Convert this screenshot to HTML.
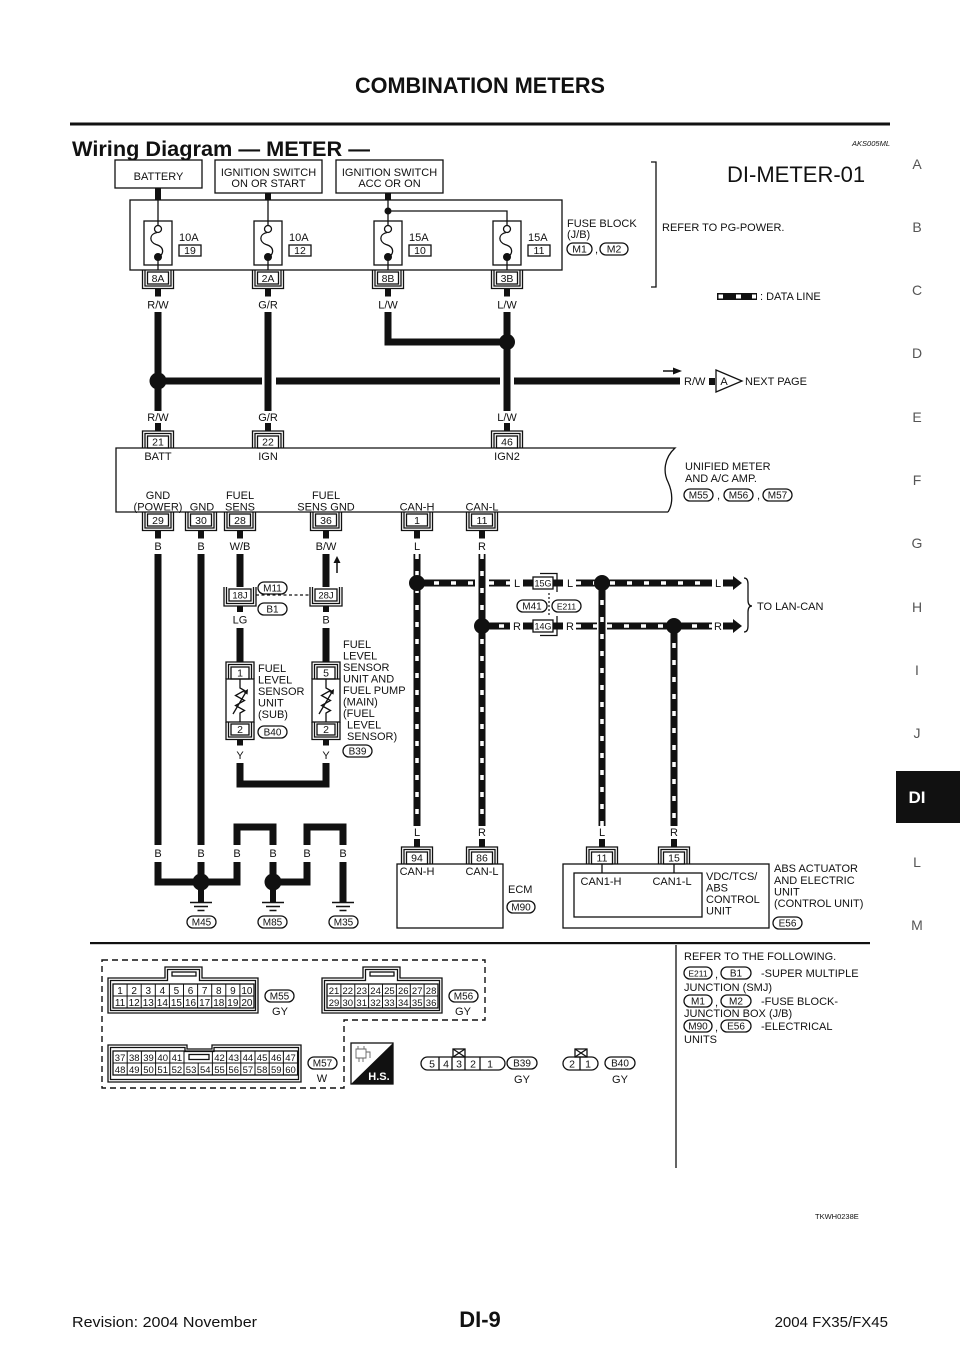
<!DOCTYPE html>
<html><head><meta charset="utf-8"><style>
html,body{margin:0;padding:0;background:#fff}
svg{display:block}
text{font-family:"Liberation Sans",Arial,sans-serif;fill:#111}
.s{fill:none;stroke:#111;stroke-width:1.3}
.sf{fill:#fff;stroke:#111;stroke-width:1.3}
.w{fill:none;stroke:#111;stroke-width:7;stroke-linejoin:miter}
.dl{fill:none;stroke:#111;stroke-width:7}
.dw{fill:none;stroke:#fff;stroke-width:3.5;stroke-dasharray:5 12}
.m{text-anchor:middle}
.tab{font-size:14px;fill:#555;text-anchor:middle}
</style></head><body>
<svg width="960" height="1358" viewBox="0 0 960 1358" xmlns="http://www.w3.org/2000/svg" font-size="11">
<rect width="960" height="1358" fill="#fff"/>

<!-- Header -->
<text x="480" y="93" class="m" font-size="22" font-weight="bold" textLength="250" lengthAdjust="spacingAndGlyphs">COMBINATION METERS</text>
<rect x="70" y="122.5" width="820" height="3" fill="#111"/>
<text x="72" y="156" font-size="21" font-weight="bold" textLength="298" lengthAdjust="spacingAndGlyphs">Wiring Diagram — METER —</text>
<text x="890" y="146" font-size="7.5" font-style="italic" text-anchor="end">AKS005ML</text>

<!-- Right tabs -->
<text x="917" y="169" class="tab">A</text>
<text x="917" y="232" class="tab">B</text>
<text x="917" y="295" class="tab">C</text>
<text x="917" y="358" class="tab">D</text>
<text x="917" y="422" class="tab">E</text>
<text x="917" y="485" class="tab">F</text>
<text x="917" y="548" class="tab">G</text>
<text x="917" y="612" class="tab">H</text>
<text x="917" y="675" class="tab">I</text>
<text x="917" y="738" class="tab">J</text>
<rect x="896" y="771" width="64" height="52" fill="#111"/>
<text x="917" y="803" class="m" font-size="17" font-weight="bold" style="fill:#fff">DI</text>
<text x="917" y="867" class="tab">L</text>
<text x="917" y="930" class="tab">M</text>

<!-- Top boxes -->
<rect x="115" y="160" width="87" height="28" class="s"/>
<text x="158.5" y="180" class="m">BATTERY</text>
<rect x="215" y="160" width="107" height="33" class="s"/>
<text x="268.5" y="176" class="m">IGNITION SWITCH</text>
<text x="268.5" y="187" class="m">ON OR START</text>
<rect x="336" y="160" width="107" height="33" class="s"/>
<text x="389.5" y="176" class="m">IGNITION SWITCH</text>
<text x="389.5" y="187" class="m">ACC OR ON</text>
<rect x="155" y="188" width="6" height="12" fill="#111"/>
<rect x="265" y="193" width="6" height="7" fill="#111"/>
<rect x="385" y="193" width="6" height="7" fill="#111"/>

<!-- Fuse block -->
<rect x="130" y="200" width="432" height="70" class="s"/>
<path d="M158 200V225.5M268 200V225.5M388 200V225.5M388 211H507V225.5" class="s"/>
<circle cx="388" cy="211" r="3.5" fill="#111"/>

<!-- fuses -->
<g>
<rect x="144" y="221" width="28" height="44" class="s"/>
<circle cx="158" cy="229" r="3.5" class="sf"/>
<path d="M157 232.5C149 234 149 242 156 244.5C165 247 164 255 158 257V270" class="s"/>
<circle cx="158" cy="257" r="4" fill="#111"/>
<text x="179" y="241">10A</text>
<rect x="179" y="245" width="22" height="11" class="s"/>
<text x="190" y="254" class="m" font-size="10.5">19</text>
</g>
<g>
<rect x="254" y="221" width="28" height="44" class="s"/>
<circle cx="268" cy="229" r="3.5" class="sf"/>
<path d="M267 232.5C259 234 259 242 266 244.5C275 247 274 255 268 257V270" class="s"/>
<circle cx="268" cy="257" r="4" fill="#111"/>
<text x="289" y="241">10A</text>
<rect x="289" y="245" width="22" height="11" class="s"/>
<text x="300" y="254" class="m" font-size="10.5">12</text>
</g>
<g>
<rect x="374" y="221" width="28" height="44" class="s"/>
<circle cx="388" cy="229" r="3.5" class="sf"/>
<path d="M387 232.5C379 234 379 242 386 244.5C395 247 394 255 388 257V270" class="s"/>
<circle cx="388" cy="257" r="4" fill="#111"/>
<text x="409" y="241">15A</text>
<rect x="409" y="245" width="22" height="11" class="s"/>
<text x="420" y="254" class="m" font-size="10.5">10</text>
</g>
<g>
<rect x="493" y="221" width="28" height="44" class="s"/>
<circle cx="507" cy="229" r="3.5" class="sf"/>
<path d="M506 232.5C498 234 498 242 505 244.5C514 247 513 255 507 257V270" class="s"/>
<circle cx="507" cy="257" r="4" fill="#111"/>
<text x="528" y="241">15A</text>
<rect x="528" y="245" width="22" height="11" class="s"/>
<text x="539" y="254" class="m" font-size="10.5">11</text>
</g>

<!-- fuse block connectors -->
<rect x="147.5" y="272" width="21" height="12" class="s"/>
<path d="M145 270V286H171V270M142.5 270V288.5H173.5V270" class="s"/>
<rect x="155" y="288.5" width="6" height="8" fill="#111"/>
<text x="158" y="282" class="m" font-size="10.5">8A</text>
<rect x="257.5" y="272" width="21" height="12" class="s"/>
<path d="M255 270V286H281V270M252.5 270V288.5H283.5V270" class="s"/>
<rect x="265" y="288.5" width="6" height="8" fill="#111"/>
<text x="268" y="282" class="m" font-size="10.5">2A</text>
<rect x="377.5" y="272" width="21" height="12" class="s"/>
<path d="M375 270V286H401V270M372.5 270V288.5H403.5V270" class="s"/>
<rect x="385" y="288.5" width="6" height="8" fill="#111"/>
<text x="388" y="282" class="m" font-size="10.5">8B</text>
<rect x="496.5" y="272" width="21" height="12" class="s"/>
<path d="M494 270V286H520V270M491.5 270V288.5H522.5V270" class="s"/>
<rect x="504" y="288.5" width="6" height="8" fill="#111"/>
<text x="507" y="282" class="m" font-size="10.5">3B</text>

<text x="158" y="308.5" class="m">R/W</text>
<text x="268" y="308.5" class="m">G/R</text>
<text x="388" y="308.5" class="m">L/W</text>
<text x="507" y="308.5" class="m">L/W</text>

<!-- fuse block side texts -->
<text x="567" y="227">FUSE BLOCK</text>
<text x="567" y="238">(J/B)</text>
<rect x="567" y="243" width="25" height="12" rx="6" class="s"/>
<text x="579.5" y="252.5" class="m" font-size="10.5">M1</text>
<text x="595" y="253">,</text>
<rect x="600" y="243" width="28" height="12" rx="6" class="s"/>
<text x="614" y="252.5" class="m" font-size="10.5">M2</text>
<path d="M651 162H656V287H651" class="s"/>
<text x="662" y="231">REFER TO PG-POWER.</text>
<text x="727" y="182" font-size="22">DI-METER-01</text>

<!-- data line legend -->
<rect x="717" y="293" width="40" height="7" fill="#111"/>
<rect x="718.5" y="294.5" width="4.5" height="4" fill="#fff"/>
<rect x="736" y="294.5" width="5" height="4" fill="#fff"/>
<rect x="752" y="294.5" width="4" height="4" fill="#fff"/>
<text x="760" y="300">: DATA LINE</text>

<!-- power wires -->
<path d="M158 312V411M268 312V411M388 312V342H507M507 312V411" class="w"/>
<path d="M158 381H262M276 381H500M514 381H680" class="w"/>
<circle cx="158" cy="381" r="8.5" fill="#111"/>
<circle cx="507" cy="342" r="8" fill="#111"/>
<path d="M663 371H674" stroke="#111" stroke-width="1.5"/>
<polygon points="673,367.5 682,371 673,374.5" fill="#111"/>
<text x="684" y="385">R/W</text>
<rect x="709" y="378" width="6" height="7" fill="#111"/>
<polygon points="716,370 742,381 716,392" class="sf"/>
<text x="724" y="385" class="m">A</text>
<text x="745" y="385">NEXT PAGE</text>

<text x="158" y="421" class="m">R/W</text>
<text x="268" y="421" class="m">G/R</text>
<text x="507" y="421" class="m">L/W</text>

<!-- meter top connectors -->
<rect x="147.5" y="436" width="21" height="12" class="s"/>
<path d="M145 448V433.5H171V448M142.5 448V431H173.5V448" class="s"/>
<rect x="155" y="423" width="6" height="8" fill="#111"/>
<text x="158" y="445.5" class="m" font-size="10.5">21</text>
<rect x="257.5" y="436" width="21" height="12" class="s"/>
<path d="M255 448V433.5H281V448M252.5 448V431H283.5V448" class="s"/>
<rect x="265" y="423" width="6" height="8" fill="#111"/>
<text x="268" y="445.5" class="m" font-size="10.5">22</text>
<rect x="496.5" y="436" width="21" height="12" class="s"/>
<path d="M494 448V433.5H520V448M491.5 448V431H522.5V448" class="s"/>
<rect x="504" y="423" width="6" height="8" fill="#111"/>
<text x="507" y="445.5" class="m" font-size="10.5">46</text>

<!-- Meter box -->
<path d="M668 512H116V448H675C664 458 663 472 668 482C673 493 673 504 668 512" class="s"/>
<text x="158" y="460" class="m">BATT</text>
<text x="268" y="460" class="m">IGN</text>
<text x="507" y="460" class="m">IGN2</text>
<text x="158" y="499" class="m">GND</text>
<text x="158" y="510.5" class="m">(POWER)</text>
<text x="202" y="510.5" class="m">GND</text>
<text x="240" y="499" class="m">FUEL</text>
<text x="240" y="510.5" class="m">SENS</text>
<text x="326" y="499" class="m">FUEL</text>
<text x="326" y="510.5" class="m">SENS GND</text>
<text x="417" y="510.5" class="m">CAN-H</text>
<text x="482" y="510.5" class="m">CAN-L</text>
<text x="685" y="470">UNIFIED METER</text>
<text x="685" y="482">AND A/C AMP.</text>
<rect x="684" y="489" width="29" height="12" rx="6" class="s"/>
<text x="698.5" y="498.5" class="m" font-size="10">M55</text>
<text x="717" y="499">,</text>
<rect x="724" y="489" width="29" height="12" rx="6" class="s"/>
<text x="738.5" y="498.5" class="m" font-size="10">M56</text>
<text x="757" y="499">,</text>
<rect x="763" y="489" width="29" height="12" rx="6" class="s"/>
<text x="777.5" y="498.5" class="m" font-size="10">M57</text>

<!-- meter bottom connectors -->
<g font-size="10.5">
<rect x="147.5" y="514" width="21" height="12" class="s"/>
<path d="M145 512V528H171V512M142.5 512V530.5H173.5V512" class="s"/>
<rect x="155" y="530.5" width="6" height="8" fill="#111"/>
<text x="158" y="524" class="m">29</text>
<rect x="190.5" y="514" width="21" height="12" class="s"/>
<path d="M188 512V528H214V512M185.5 512V530.5H216.5V512" class="s"/>
<rect x="198" y="530.5" width="6" height="8" fill="#111"/>
<text x="201" y="524" class="m">30</text>
<rect x="229.5" y="514" width="21" height="12" class="s"/>
<path d="M227 512V528H253V512M224.5 512V530.5H255.5V512" class="s"/>
<rect x="237" y="530.5" width="6" height="8" fill="#111"/>
<text x="240" y="524" class="m">28</text>
<rect x="315.5" y="514" width="21" height="12" class="s"/>
<path d="M313 512V528H339V512M310.5 512V530.5H341.5V512" class="s"/>
<rect x="323" y="530.5" width="6" height="8" fill="#111"/>
<text x="326" y="524" class="m">36</text>
<rect x="406.5" y="514" width="21" height="12" class="s"/>
<path d="M404 512V528H430V512M401.5 512V530.5H432.5V512" class="s"/>
<rect x="414" y="530.5" width="6" height="8" fill="#111"/>
<text x="417" y="524" class="m">1</text>
<rect x="471.5" y="514" width="21" height="12" class="s"/>
<path d="M469 512V528H495V512M466.5 512V530.5H497.5V512" class="s"/>
<rect x="479" y="530.5" width="6" height="8" fill="#111"/>
<text x="482" y="524" class="m">11</text>
</g>
<text x="158" y="550" class="m">B</text>
<text x="201" y="550" class="m">B</text>
<text x="240" y="550" class="m">W/B</text>
<text x="326" y="550" class="m">B/W</text>
<text x="417" y="550" class="m">L</text>
<text x="482" y="550" class="m">R</text>

<!-- ground wires -->
<path d="M158 554V845M158 862V882H201M201 554V845M201 862V882" class="w"/>
<path d="M201 882H237V862M237 845V827H273V845M273 862V882" class="w"/>
<path d="M273 882H307V862M307 845V827H343V845M343 862V903" class="w"/>
<path d="M201 882V902M273 882V902" stroke="#111" stroke-width="6"/>
<circle cx="201" cy="882" r="8.5" fill="#111"/>
<circle cx="273" cy="882" r="8.5" fill="#111"/>
<path d="M190 902.5H212M194 906.5H208M197.5 910.5H204.5M262 902.5H284M266 906.5H280M269.5 910.5H276.5M332 902.5H354M336 906.5H350M339.5 910.5H346.5" stroke="#111" stroke-width="1.5"/>
<text x="158" y="857" class="m">B</text>
<text x="201" y="857" class="m">B</text>
<text x="237" y="857" class="m">B</text>
<text x="273" y="857" class="m">B</text>
<text x="307" y="857" class="m">B</text>
<text x="343" y="857" class="m">B</text>
<rect x="187" y="916" width="29" height="12" rx="6" class="s"/>
<text x="201.5" y="925.5" class="m" font-size="10">M45</text>
<rect x="258" y="916" width="29" height="12" rx="6" class="s"/>
<text x="272.5" y="925.5" class="m" font-size="10">M85</text>
<rect x="329" y="916" width="29" height="12" rx="6" class="s"/>
<text x="343.5" y="925.5" class="m" font-size="10">M35</text>

<!-- fuel wires -->
<path d="M240 554V587M326 554V587M240 628V662M326 628V662M240 763V784H326V763" class="w"/>
<rect x="229" y="589" width="22" height="12" class="s"/>
<path d="M226.5 587V603.5H253.5V587M224 587V606H256V587" class="s"/>
<rect x="237" y="606" width="6" height="6" fill="#111"/>
<text x="240" y="598.5" class="m" font-size="9.5">18J</text>
<rect x="315" y="589" width="22" height="12" class="s"/>
<path d="M312.5 587V603.5H339.5V587M310 587V606H342V587" class="s"/>
<rect x="323" y="606" width="6" height="6" fill="#111"/>
<text x="326" y="598.5" class="m" font-size="9.5">28J</text>
<path d="M256 595H310" stroke="#111" stroke-width="1.2" stroke-dasharray="3 2.5"/>
<rect x="258" y="582" width="29" height="12" rx="6" class="s"/>
<text x="272.5" y="591.5" class="m" font-size="10">M11</text>
<rect x="258" y="603" width="29" height="12" rx="6" class="s"/>
<text x="272.5" y="612.5" class="m" font-size="10">B1</text>
<text x="240" y="623.5" class="m">LG</text>
<text x="326" y="623.5" class="m">B</text>
<path d="M337 573V562" stroke="#111" stroke-width="1.5"/>
<polygon points="333.5,563 340.5,563 337,556" fill="#111"/>

<!-- sensor 1 -->
<rect x="231" y="667" width="18" height="12" class="s"/>
<path d="M228.5 679V664.5H251.5V679M226 679V662H254V679" class="s"/>
<text x="240" y="676.5" class="m" font-size="10.5">1</text>
<rect x="226" y="679" width="28" height="43" class="s"/>
<rect x="231" y="724" width="18" height="11" class="s"/>
<path d="M228.5 722V737H251.5V722M226 722V739.5H254V722" class="s"/>
<text x="240" y="733" class="m" font-size="10.5">2</text>
<rect x="237" y="739.5" width="6" height="6" fill="#111"/>
<path d="M240 679V688L244.5 690.5L235.5 695.5L244.5 700.5L235.5 705.5L244.5 710.5L240 713V722M233 714L246 692" class="s"/>
<polygon points="248,689 247.5,694.6 243.3,692" fill="#111"/>
<text x="240" y="759" class="m">Y</text>
<!-- sensor 2 -->
<rect x="317" y="667" width="18" height="12" class="s"/>
<path d="M314.5 679V664.5H337.5V679M312 679V662H340V679" class="s"/>
<text x="326" y="676.5" class="m" font-size="10.5">5</text>
<rect x="312" y="679" width="28" height="43" class="s"/>
<rect x="317" y="724" width="18" height="11" class="s"/>
<path d="M314.5 722V737H337.5V722M312 722V739.5H340V722" class="s"/>
<text x="326" y="733" class="m" font-size="10.5">2</text>
<rect x="323" y="739.5" width="6" height="6" fill="#111"/>
<path d="M326 679V688L330.5 690.5L321.5 695.5L330.5 700.5L321.5 705.5L330.5 710.5L326 713V722M319 714L332 692" class="s"/>
<polygon points="334,689 333.5,694.6 329.3,692" fill="#111"/>
<text x="326" y="759" class="m">Y</text>

<text x="258" y="672">FUEL</text>
<text x="258" y="683.5">LEVEL</text>
<text x="258" y="695">SENSOR</text>
<text x="258" y="706.5">UNIT</text>
<text x="258" y="718">(SUB)</text>
<rect x="258" y="726" width="29" height="12" rx="6" class="s"/>
<text x="272.5" y="735.5" class="m" font-size="10">B40</text>
<text x="343" y="648">FUEL</text>
<text x="343" y="659.5">LEVEL</text>
<text x="343" y="671">SENSOR</text>
<text x="343" y="682.5">UNIT AND</text>
<text x="343" y="694">FUEL PUMP</text>
<text x="343" y="705.5">(MAIN)</text>
<text x="343" y="717">(FUEL</text>
<text x="347" y="728.5">LEVEL</text>
<text x="347" y="740">SENSOR)</text>
<rect x="343" y="745" width="29" height="12" rx="6" class="s"/>
<text x="357.5" y="754.5" class="m" font-size="10">B39</text>

<!-- CAN data lines -->
<path d="M417 554V826M482 554V826M602 583V826M674 626V826M417 583H475M489 583H511M523 583H533M553 583H564M576 583H713M722 583H728M482 626H511M523 626H533M553 626H564M576 626H597M607 626H713M722 626H728" class="dl"/>
<path d="M417 554V826M482 554V826M602 583V826M674 626V826M417 583H475M489 583H511M576 583H713M482 626H511M576 626H597M607 626H713" class="dw"/>
<circle cx="417" cy="583" r="8" fill="#111"/>
<circle cx="482" cy="626" r="8" fill="#111"/>
<circle cx="602" cy="583" r="8" fill="#111"/>
<circle cx="674" cy="626" r="8" fill="#111"/>
<polygon points="726,579.5 733,579.5 733,576 742,583 733,590 733,586.5 726,586.5" fill="#111"/>
<polygon points="726,622.5 733,622.5 733,619 742,626 733,633 733,629.5 726,629.5" fill="#111"/>
<rect x="510" y="578" width="13" height="10" fill="#fff"/>
<rect x="563" y="578" width="13" height="10" fill="#fff"/>
<rect x="712" y="578" width="11" height="10" fill="#fff"/>
<rect x="510" y="621" width="13" height="10" fill="#fff"/>
<rect x="563" y="621" width="13" height="10" fill="#fff"/>
<rect x="712" y="621" width="11" height="10" fill="#fff"/>
<text x="517" y="587" class="m">L</text>
<text x="570" y="587" class="m">L</text>
<text x="718" y="587" class="m">L</text>
<text x="517" y="630" class="m">R</text>
<text x="570" y="630" class="m">R</text>
<text x="718" y="630" class="m">R</text>
<rect x="533" y="577" width="20" height="12" class="sf"/>
<text x="543" y="586.5" class="m" font-size="9">15G</text>
<path d="M540 573.5H557V592" class="s"/>
<rect x="533" y="620" width="20" height="12" class="sf"/>
<text x="543" y="629.5" class="m" font-size="9">14G</text>
<path d="M557 616V635.5H540" class="s"/>
<path d="M549 593V616" stroke="#111" stroke-width="1.2" stroke-dasharray="2 2"/>
<rect x="517" y="600" width="30" height="12" rx="6" class="s"/>
<text x="532" y="609.5" class="m" font-size="10">M41</text>
<rect x="552" y="600" width="29" height="12" rx="6" class="s"/>
<text x="566.5" y="609.5" class="m" font-size="8.5">E211</text>
<path d="M744 578Q748 578 748 584V600Q748 606 752 606Q748 606 748 612V626Q748 632 744 632" class="s"/>
<text x="757" y="610">TO LAN-CAN</text>

<text x="417" y="836" class="m">L</text>
<text x="482" y="836" class="m">R</text>
<text x="602" y="836" class="m">L</text>
<text x="674" y="836" class="m">R</text>

<!-- ECM / ABS connectors -->
<g font-size="10.5">
<rect x="406.5" y="852" width="21" height="12" class="s"/>
<path d="M404 864V849.5H430V864M401.5 864V847H432.5V864" class="s"/>
<rect x="414" y="839" width="6" height="8" fill="#111"/>
<text x="417" y="861.5" class="m">94</text>
<rect x="471.5" y="852" width="21" height="12" class="s"/>
<path d="M469 864V849.5H495V864M466.5 864V847H497.5V864" class="s"/>
<rect x="479" y="839" width="6" height="8" fill="#111"/>
<text x="482" y="861.5" class="m">86</text>
<rect x="591.5" y="852" width="21" height="12" class="s"/>
<path d="M589 864V849.5H615V864M586.5 864V847H617.5V864" class="s"/>
<rect x="599" y="839" width="6" height="8" fill="#111"/>
<text x="602" y="861.5" class="m">11</text>
<rect x="663.5" y="852" width="21" height="12" class="s"/>
<path d="M661 864V849.5H687V864M658.5 864V847H689.5V864" class="s"/>
<rect x="671" y="839" width="6" height="8" fill="#111"/>
<text x="674" y="861.5" class="m">15</text>
</g>

<!-- ECM -->
<rect x="397" y="864" width="106" height="64" class="s"/>
<text x="417" y="875" class="m">CAN-H</text>
<text x="482" y="875" class="m">CAN-L</text>
<text x="508" y="893">ECM</text>
<rect x="507" y="901" width="28" height="12" rx="6" class="s"/>
<text x="521" y="910.5" class="m" font-size="10">M90</text>

<!-- ABS -->
<rect x="563" y="864" width="206" height="64" class="s"/>
<rect x="574" y="873" width="128" height="44" class="s"/>
<path d="M602 864V873M674 864V873" class="s"/>
<text x="601" y="885" class="m">CAN1-H</text>
<text x="672" y="885" class="m">CAN1-L</text>
<text x="706" y="880">VDC/TCS/</text>
<text x="706" y="891.5">ABS</text>
<text x="706" y="903">CONTROL</text>
<text x="706" y="914.5">UNIT</text>
<text x="774" y="872">ABS ACTUATOR</text>
<text x="774" y="884">AND ELECTRIC</text>
<text x="774" y="895.5">UNIT</text>
<text x="774" y="907">(CONTROL UNIT)</text>
<rect x="773" y="917" width="29" height="12" rx="6" class="s"/>
<text x="787.5" y="926.5" class="m" font-size="10">E56</text>

<!-- separator -->
<rect x="90" y="942" width="780" height="2.2" fill="#111"/>
<path d="M676 945V1168" class="s"/>

<!-- dashed boundary -->
<path d="M102 960H485V1020H344V1088H102Z" fill="none" stroke="#111" stroke-width="1.4" stroke-dasharray="6 4"/>

<!-- M55 -->
<path d="M108 978H165V967H202V978H258V1013H108Z" class="s"/>
<path d="M110.5 980.5H167.5V969.5H199.5V980.5H255.5V1010.5H110.5Z" class="s"/>
<rect x="172" y="972" width="24" height="4" class="s"/>
<rect x="113" y="984" width="141" height="24" class="s"/>
<path d="M127.1 984V1008M141.2 984V1008M155.3 984V1008M169.4 984V1008M183.5 984V1008M197.6 984V1008M211.7 984V1008M225.8 984V1008M239.9 984V1008M113 996H254" stroke="#111" stroke-width="1"/>
<g font-size="10" text-anchor="middle">
<text x="120.05" y="994">1</text><text x="134.15" y="994">2</text><text x="148.25" y="994">3</text><text x="162.35" y="994">4</text><text x="176.45" y="994">5</text><text x="190.55" y="994">6</text><text x="204.65" y="994">7</text><text x="218.75" y="994">8</text><text x="232.85" y="994">9</text><text x="246.95" y="994">10</text>
<text x="120.05" y="1006">11</text><text x="134.15" y="1006">12</text><text x="148.25" y="1006">13</text><text x="162.35" y="1006">14</text><text x="176.45" y="1006">15</text><text x="190.55" y="1006">16</text><text x="204.65" y="1006">17</text><text x="218.75" y="1006">18</text><text x="232.85" y="1006">19</text><text x="246.95" y="1006">20</text>
</g>
<rect x="265" y="990" width="29" height="12" rx="6" class="s"/>
<text x="279.5" y="999.5" class="m" font-size="10">M55</text>
<text x="280" y="1015" class="m">GY</text>

<!-- M56 -->
<path d="M322 978H363V967H400V978H442V1013H322Z" class="s"/>
<path d="M324.5 980.5H365.5V969.5H397.5V980.5H439.5V1010.5H324.5Z" class="s"/>
<rect x="370" y="972" width="24" height="4" class="s"/>
<rect x="327" y="984" width="111" height="24" class="s"/>
<path d="M340.9 984V1008M354.8 984V1008M368.6 984V1008M382.5 984V1008M396.4 984V1008M410.3 984V1008M424.1 984V1008M327 996H438" stroke="#111" stroke-width="1"/>
<g font-size="9.5" text-anchor="middle">
<text x="334" y="994">21</text><text x="347.8" y="994">22</text><text x="361.7" y="994">23</text><text x="375.6" y="994">24</text><text x="389.4" y="994">25</text><text x="403.3" y="994">26</text><text x="417.2" y="994">27</text><text x="431.1" y="994">28</text>
<text x="334" y="1006">29</text><text x="347.8" y="1006">30</text><text x="361.7" y="1006">31</text><text x="375.6" y="1006">32</text><text x="389.4" y="1006">33</text><text x="403.3" y="1006">34</text><text x="417.2" y="1006">35</text><text x="431.1" y="1006">36</text>
</g>
<rect x="449" y="990" width="29" height="12" rx="6" class="s"/>
<text x="463.5" y="999.5" class="m" font-size="10">M56</text>
<text x="463" y="1015" class="m">GY</text>

<!-- M57 -->
<path d="M108 1045H187V1049H212V1045H301V1082H108Z" class="s"/>
<path d="M110.5 1047.5H185V1051.5H214V1047.5H298.5V1079.5H110.5Z" class="s"/>
<rect x="113" y="1051" width="184.6" height="24" class="s"/>
<rect x="189" y="1054.5" width="20" height="5" class="s"/>
<path d="M113 1063H297.6M127.2 1051V1075M141.4 1051V1075M155.6 1051V1075M169.8 1051V1075M184 1051V1075M212.4 1051V1075M226.6 1051V1075M240.8 1051V1075M255 1051V1075M269.2 1051V1075M283.4 1051V1075M198.2 1063V1075" stroke="#111" stroke-width="1"/>
<g font-size="9.5" text-anchor="middle">
<text x="120.1" y="1061">37</text><text x="134.3" y="1061">38</text><text x="148.5" y="1061">39</text><text x="162.7" y="1061">40</text><text x="176.9" y="1061">41</text>
<text x="219.5" y="1061">42</text><text x="233.7" y="1061">43</text><text x="247.9" y="1061">44</text><text x="262.1" y="1061">45</text><text x="276.3" y="1061">46</text><text x="290.5" y="1061">47</text>
<text x="120.1" y="1073">48</text><text x="134.3" y="1073">49</text><text x="148.5" y="1073">50</text><text x="162.7" y="1073">51</text><text x="176.9" y="1073">52</text><text x="191.1" y="1073">53</text><text x="205.3" y="1073">54</text><text x="219.5" y="1073">55</text><text x="233.7" y="1073">56</text><text x="247.9" y="1073">57</text><text x="262.1" y="1073">58</text><text x="276.3" y="1073">59</text><text x="290.5" y="1073">60</text>
</g>
<rect x="308" y="1057" width="29" height="12" rx="6" class="s"/>
<text x="322.5" y="1066.5" class="m" font-size="10">M57</text>
<text x="322" y="1082" class="m">W</text>

<!-- H.S. icon -->
<rect x="351" y="1043" width="42" height="41" class="s"/>
<polygon points="351,1084 393,1043 393,1084" fill="#111"/>
<text x="379" y="1080" class="m" font-size="11" font-weight="bold" style="fill:#fff">H.S.</text>
<path d="M356 1049H366V1058H356ZM358 1046V1049M364 1046V1049M359 1058V1062M363 1058V1062M366 1052H370V1058" fill="none" stroke="#666" stroke-width="0.9"/>

<!-- B39 -->
<rect x="421" y="1057" width="84" height="13" rx="6.5" class="s"/>
<path d="M439 1057V1070M452 1057V1070M465 1057V1070M480 1057V1070" class="s"/>
<rect x="453" y="1049" width="12" height="8" class="s"/>
<path d="M453 1049L465 1057M465 1049L453 1057" class="s"/>
<g font-size="10.5" text-anchor="middle">
<text x="432" y="1067.5">5</text><text x="446" y="1067.5">4</text><text x="459" y="1067.5">3</text><text x="473" y="1067.5">2</text><text x="490" y="1067.5">1</text>
</g>
<rect x="507" y="1057" width="30" height="12" rx="6" class="s"/>
<text x="522" y="1066.5" class="m" font-size="10">B39</text>
<text x="522" y="1083" class="m">GY</text>

<!-- B40 -->
<rect x="563" y="1057" width="35" height="13" rx="6.5" class="s"/>
<path d="M580 1057V1070" class="s"/>
<rect x="575" y="1049" width="12" height="8" class="s"/>
<path d="M575 1049L587 1057M587 1049L575 1057" class="s"/>
<text x="572" y="1067.5" class="m" font-size="10.5">2</text>
<text x="588" y="1067.5" class="m" font-size="10.5">1</text>
<rect x="605" y="1057" width="30" height="12" rx="6" class="s"/>
<text x="620" y="1066.5" class="m" font-size="10">B40</text>
<text x="620" y="1083" class="m">GY</text>

<!-- refer -->
<text x="684" y="960">REFER TO THE FOLLOWING.</text>
<rect x="684" y="967" width="28" height="12" rx="6" class="s"/>
<text x="698" y="976.5" class="m" font-size="8.5">E211</text>
<text x="715" y="978">,</text>
<rect x="721" y="967" width="30" height="12" rx="6" class="s"/>
<text x="736" y="976.5" class="m" font-size="10">B1</text>
<text x="761" y="977">-SUPER MULTIPLE</text>
<text x="684" y="991">JUNCTION (SMJ)</text>
<rect x="684" y="995" width="28" height="12" rx="6" class="s"/>
<text x="698" y="1004.5" class="m" font-size="10">M1</text>
<text x="715" y="1006">,</text>
<rect x="721" y="995" width="30" height="12" rx="6" class="s"/>
<text x="736" y="1004.5" class="m" font-size="10">M2</text>
<text x="761" y="1005">-FUSE BLOCK-</text>
<text x="684" y="1017">JUNCTION BOX (J/B)</text>
<rect x="684" y="1020" width="28" height="12" rx="6" class="s"/>
<text x="698" y="1029.5" class="m" font-size="10">M90</text>
<text x="715" y="1031">,</text>
<rect x="721" y="1020" width="30" height="12" rx="6" class="s"/>
<text x="736" y="1029.5" class="m" font-size="10">E56</text>
<text x="761" y="1030">-ELECTRICAL</text>
<text x="684" y="1043">UNITS</text>

<text x="815" y="1219" font-size="7.5">TKWH0238E</text>

<!-- Footer -->
<text x="72" y="1327" font-size="15" textLength="185" lengthAdjust="spacingAndGlyphs">Revision: 2004 November</text>
<text x="480" y="1327" class="m" font-size="22" font-weight="bold">DI-9</text>
<text x="888" y="1327" font-size="15" text-anchor="end">2004 FX35/FX45</text>
</svg>
</body></html>
